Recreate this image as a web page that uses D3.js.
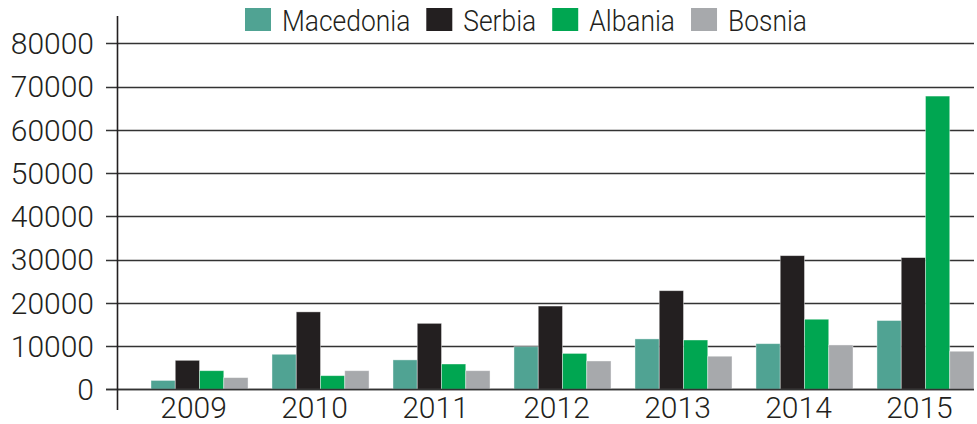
<!DOCTYPE html>
<html>
<head>
<meta charset="utf-8">
<script src="https://cdn.jsdelivr.net/npm/d3@7"></script>
<style>
  html, body { margin: 0; padding: 0; background: #fff; }
  svg text { fill: #231f20; }
</style>
</head>
<body>
<div id="chart"></div>
<script>
// --- Data ---
const years = ["2009", "2010", "2011", "2012", "2013", "2014", "2015"];
const countries = ["Macedonia", "Serbia", "Albania", "Bosnia"];
const macedonia = [2050, 8100, 6800, 9850, 11650, 10550, 15900];
const serbia    = [6700, 17900, 15250, 19250, 22800, 30900, 30450];
const albania   = [4300, 3150, 5850, 8300, 11400, 16200, 67800];
const bosnia    = [2700, 4300, 4300, 6550, 7650, 10250, 8800];
const yTicks = [0, 10000, 20000, 30000, 40000, 50000, 60000, 70000, 80000];
const colors = ["#50a393", "#231f20", "#00a651", "#a7a9ac"];

const seriesValues = [macedonia, serbia, albania, bosnia];

const width = 977, height = 424;
const axisX = 117.5, gridLeft = 106, gridRight = 974;

const svg = d3.select("#chart").append("svg")
  .attr("width", width)
  .attr("height", height);

// --- Scales ---
const x = d3.scaleBand()
  .domain(years)
  .range([151, 974])
  .paddingInner(0.198)
  .paddingOuter(0);

const xInner = d3.scaleBand()
  .domain(countries)
  .range([0, x.bandwidth()]);

const y = d3.scaleLinear()
  .domain([0, 80000])
  .range([389.3, 43.3]);

// --- Gridlines ---
svg.append("g")
  .selectAll("line")
  .data(yTicks)
  .join("line")
  .attr("x1", gridLeft)
  .attr("x2", gridRight)
  .attr("y1", d => Math.round(y(d)) + 0.5)
  .attr("y2", d => Math.round(y(d)) + 0.5)
  .attr("stroke", "#333")
  .attr("stroke-width", 1.6);

// --- Y axis labels ---
svg.append("g")
  .selectAll("text")
  .data(yTicks)
  .join("text")
  .attr("x", 94)
  .attr("y", d => y(d))
  .attr("dy", "0.36em")
  .attr("text-anchor", "end")
  .style("font-family", "Roboto, 'Liberation Sans', sans-serif")
  .style("font-weight", 300)
  .style("font-size", "30px")
  .text(d => d);

// --- Bars ---
const groups = svg.append("g")
  .selectAll("g")
  .data(years)
  .join("g")
  .attr("transform", d => `translate(${x(d)},0)`);

groups.selectAll("rect")
  .data((yr, i) => countries.map((c, j) => ({ c, j, v: seriesValues[j][i] })))
  .join("rect")
  .attr("x", d => xInner(d.c))
  .attr("width", xInner.bandwidth())
  .attr("y", d => y(d.v))
  .attr("height", d => y(0) - y(d.v))
  .attr("fill", d => colors[d.j])
  .attr("stroke", "#fff")
  .attr("stroke-opacity", 0.5)
  .attr("stroke-width", 0.8);

// zero line on top of bars
svg.append("line")
  .attr("x1", gridLeft).attr("x2", gridRight)
  .attr("y1", Math.round(y(0)) + 0.5).attr("y2", Math.round(y(0)) + 0.5)
  .attr("stroke", "#333")
  .attr("stroke-width", 1.6);

// --- Vertical axis line ---
svg.append("line")
  .attr("x1", axisX).attr("x2", axisX)
  .attr("y1", 16).attr("y2", 410)
  .attr("stroke", "#231f20")
  .attr("stroke-width", 1.6);

// --- X labels ---
svg.append("g")
  .selectAll("text")
  .data(years)
  .join("text")
  .attr("x", d => x(d) + x.bandwidth() / 2 - 6)
  .attr("y", 418)
  .attr("text-anchor", "middle")
  .style("font-family", "Roboto, 'Liberation Sans', sans-serif")
  .style("font-weight", 300)
  .style("font-size", "30px")
  .text(d => d);

// --- Legend (font in the source is condensed, so squeeze text horizontally) ---
const legend = svg.append("g");
const squeeze = 0.88;
let lx = 245;
countries.forEach((c, i) => {
  const item = legend.append("g").attr("transform", `translate(${lx},0)`);
  item.append("rect")
    .attr("x", 0).attr("y", 8)
    .attr("width", 26).attr("height", 23)
    .attr("fill", colors[i]);
  const t = item.append("text")
    .attr("transform", `translate(37,31) scale(${squeeze},1)`)
    .style("font-family", "Roboto, 'Liberation Sans', sans-serif")
    .style("font-weight", 300)
    .style("font-size", "30px")
    .text(c);
  lx += 37 + t.node().getComputedTextLength() * squeeze + 16;
});
</script>
</body>
</html>
